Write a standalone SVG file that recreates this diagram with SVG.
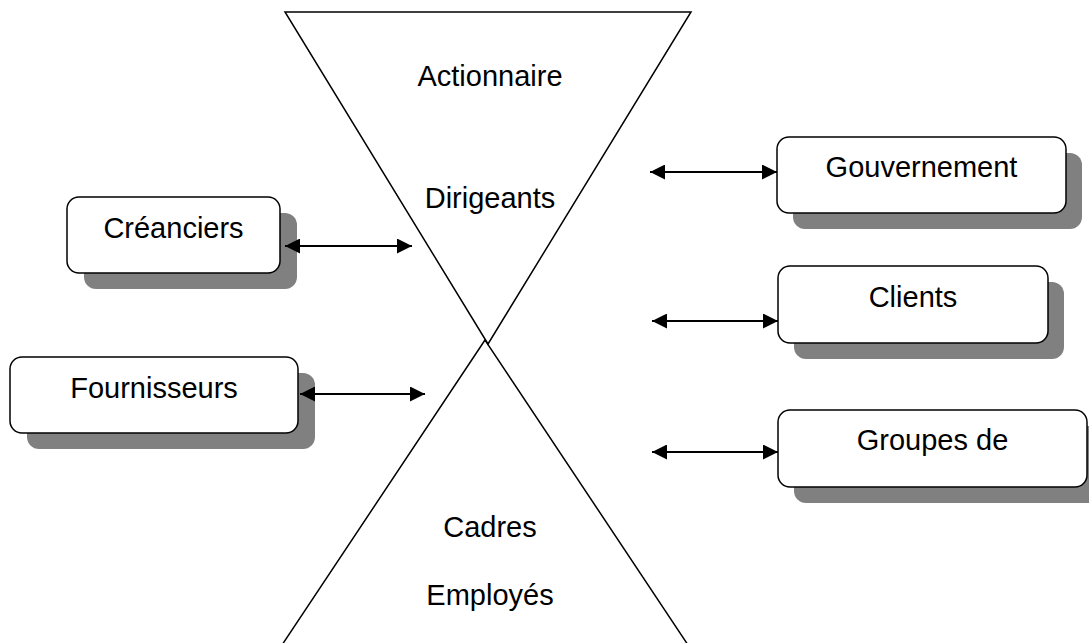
<svg xmlns="http://www.w3.org/2000/svg" width="1089" height="643" viewBox="0 0 1089 643">
<style>
text{font-family:"Liberation Sans",Arial,sans-serif;font-size:29px;fill:#000;text-anchor:middle}
.box{fill:#fff;stroke:#000;stroke-width:1.5}
.shadow{fill:#808080;stroke:none}
.tri{fill:none;stroke:#000;stroke-width:1.5}
.conn{stroke:#000;stroke-width:1.8;fill:none;marker-start:url(#ah);marker-end:url(#ah)}
</style>
<defs>
<marker id="ah" viewBox="0 0 15 15" refX="15" refY="7.5" markerWidth="15" markerHeight="15" markerUnits="userSpaceOnUse" orient="auto-start-reverse">
<path d="M0,0 L15,7.5 L0,15 Z" fill="#000"/>
</marker>
</defs>
<rect width="1089" height="643" fill="#fff"/>
<g id="hourglass">
<polygon class="tri" points="285,12 691,12 488,344"/>
<polygon class="tri" points="485,340 272,660 698,660"/>
<text x="490" y="86">Actionnaire</text>
<text x="490" y="208">Dirigeants</text>
<text x="490" y="537">Cadres</text>
<text x="490" y="605">Employés</text>
</g>
<g id="creanciers">
<rect class="shadow" x="84" y="213" width="213" height="76" rx="12"/>
<rect class="box" x="67" y="197" width="213" height="76" rx="12"/>
<text x="173.5" y="238">Créanciers</text>
</g>
<g id="fournisseurs">
<rect class="shadow" x="27" y="373" width="288" height="76" rx="12"/>
<rect class="box" x="10" y="357" width="288" height="76" rx="12"/>
<text x="154" y="398">Fournisseurs</text>
</g>
<g id="gouvernement">
<rect class="shadow" x="793" y="153" width="289" height="76" rx="12"/>
<rect class="box" x="777" y="137" width="289" height="76" rx="12"/>
<text x="921.5" y="177">Gouvernement</text>
</g>
<g id="clients">
<rect class="shadow" x="794" y="282" width="270" height="77" rx="12"/>
<rect class="box" x="778" y="266" width="270" height="77" rx="12"/>
<text x="913" y="307">Clients</text>
</g>
<g id="groupes">
<rect class="shadow" x="794" y="426" width="309" height="77" rx="12"/>
<rect class="box" x="778" y="410" width="309" height="77" rx="12"/>
<text x="932.5" y="450">Groupes de</text>
</g>
<g id="connectors">
<line class="conn" x1="285" y1="246" x2="412" y2="246"/>
<line class="conn" x1="300" y1="394" x2="425" y2="394"/>
<line class="conn" x1="650" y1="172" x2="777" y2="172"/>
<line class="conn" x1="652" y1="321" x2="778" y2="321"/>
<line class="conn" x1="652" y1="452" x2="778" y2="452"/>
</g>
</svg>
